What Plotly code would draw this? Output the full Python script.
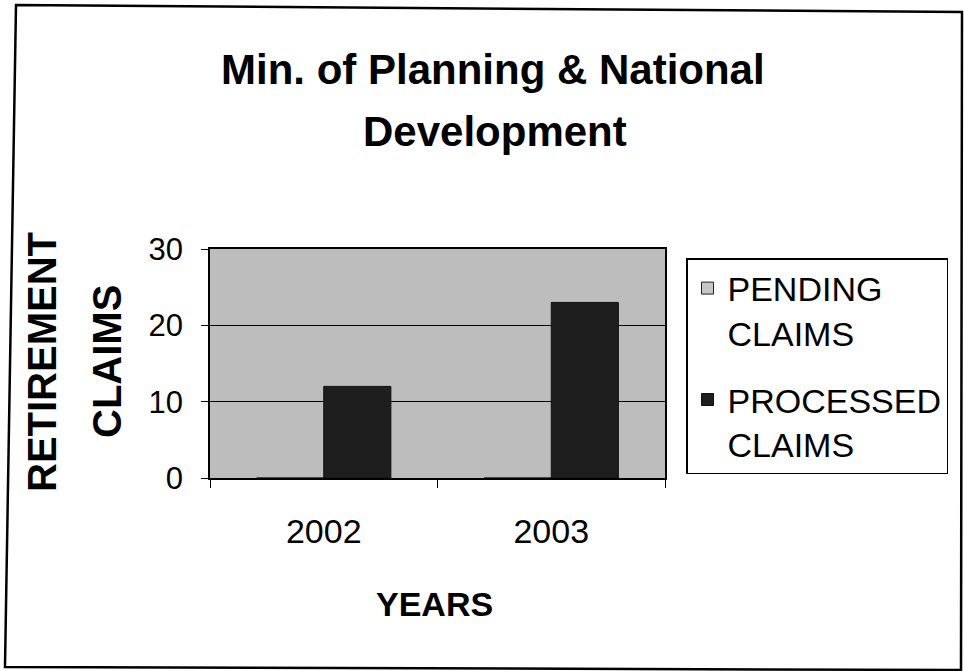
import plotly.graph_objects as go

years = ["2002", "2003"]
pending = [0, 0]
processed = [12, 23]
series_names = ["PENDING<br>CLAIMS", "PROCESSED<br>CLAIMS"]
title_lines = ["Min. of Planning & National", "Development"]
y_title_lines = ["RETIREMENT", "CLAIMS"]
x_title = "YEARS"

W, H = 964, 671
L, R, T, B = 210, 665, 249, 478
pw, ph = R - L, B - T


def px(x):
    return (x - L) / pw


def py(y):
    return (B - y) / ph


FONT = "Liberation Sans, Arial, sans-serif"

fig = go.Figure()
fig.add_trace(go.Bar(x=years, y=pending, name=series_names[0], legendgroup="p",
                     marker=dict(color="#c6c6c6", line=dict(color="#222", width=1))))
fig.add_trace(go.Bar(x=years, y=processed, name=series_names[1], legendgroup="q",
                     marker=dict(color="#1e1e1e", line=dict(color="#111", width=1))))

# outer frame (slightly skewed like the scanned original)
frame = "M {} {} L {} {} L {} {} L {} {} Z".format(
    px(16), py(5), px(962), py(12), px(961), py(670), px(5), py(667))

annotations = [
    dict(text="<b>" + title_lines[0] + "</b>", x=px(493), y=py(69)),
    dict(text="<b>" + title_lines[1] + "</b>", x=px(495), y=py(131)),
]
for a in annotations:
    a.update(xref="paper", yref="paper", xanchor="center", yanchor="middle",
             showarrow=False, font=dict(size=42, family=FONT, color="black"))

annotations += [
    dict(text="<b>" + y_title_lines[0] + "</b>", x=px(42), y=py(362), textangle=-90,
         xref="paper", yref="paper", xanchor="center", yanchor="middle", showarrow=False,
         font=dict(size=40, family=FONT, color="black")),
    dict(text="<b>" + y_title_lines[1] + "</b>", x=px(107), y=py(362), textangle=-90,
         xref="paper", yref="paper", xanchor="center", yanchor="middle", showarrow=False,
         font=dict(size=40, family=FONT, color="black")),
    dict(text="<b>" + x_title + "</b>", x=px(434), y=py(604),
         xref="paper", yref="paper", xanchor="center", yanchor="middle", showarrow=False,
         font=dict(size=34, family=FONT, color="black")),
]

fig.update_layout(
    width=W, height=H,
    margin=dict(l=L, r=W - R, t=T, b=H - B, autoexpand=False),
    paper_bgcolor="white",
    plot_bgcolor="#bdbdbd",
    barmode="group",
    bargap=0.41,
    bargroupgap=0,
    showlegend=True,
    font=dict(family=FONT, color="black", size=30),
    legend=dict(
        x=px(686), y=py(258), xanchor="left", yanchor="top",
        bordercolor="black", borderwidth=1.5, bgcolor="white",
        font=dict(size=34, family=FONT),
        tracegroupgap=20, traceorder="grouped", valign="top",
    ),
    xaxis=dict(
        showline=True, linecolor="black", linewidth=1.5, mirror=True,
        ticks="outside", tickson="boundaries", ticklen=8, tickcolor="black",
        tickfont=dict(size=34), showgrid=False, ticklabelstandoff=22,
    ),
    yaxis=dict(
        range=[0, 30], dtick=10,
        showline=True, linecolor="black", linewidth=1.5, mirror=True,
        ticks="outside", ticklen=7, tickcolor="black",
        tickfont=dict(size=31), ticklabelstandoff=12,
        showgrid=True, gridcolor="black", gridwidth=1,
        zeroline=False,
    ),
    shapes=[dict(type="path", path=frame, xref="paper", yref="paper",
                 line=dict(color="black", width=2.5), fillcolor="rgba(0,0,0,0)", layer="above")],
    annotations=annotations,
)

fig.write_html("out.html", config={"displayModeBar": False},
               post_script="document.body.style.margin='0';document.body.style.overflow='hidden';")
